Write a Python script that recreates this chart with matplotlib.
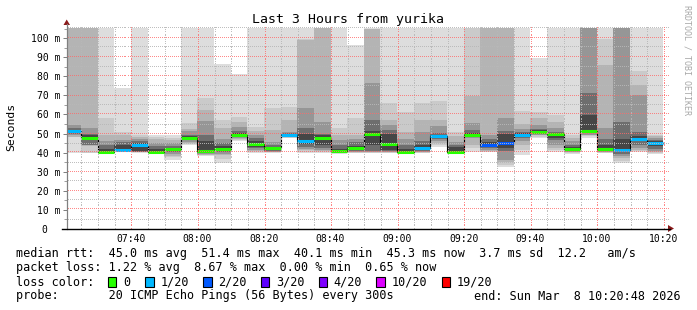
import matplotlib
matplotlib.use('Agg')
import matplotlib.pyplot as plt
import numpy as np
from matplotlib.lines import Line2D
from matplotlib.patches import Rectangle, Polygon

W, H, DPI = 697, 310, 100
MONO = 'DejaVu Sans Mono'

# ---------------- data (minutes after 07:00) ----------------
view_start, view_end = 20.8, 200.8          # 07:20:48 .. 10:20:48
bar_start, bar_step = 20, 5                 # 5-minute RRD steps

medians = [51.2, 47.8, 40.5, 41.5, 43.9, 40.5, 41.8, 47.8, 41.0, 42.0, 49.4, 44.4,
           42.2, 49.5, 46.0, 47.8, 41.0, 42.4, 49.7, 44.5, 40.5, 42.2, 48.7, 40.3,
           49.0, 44.2, 45.0, 49.5, 51.0, 49.7, 42.0, 51.3, 41.8, 41.5, 47.3, 45.3]
lost = [1, 0, 0, 1, 1, 0, 0, 0, 0, 0, 0, 0,
        0, 1, 1, 0, 0, 0, 0, 0, 0, 1, 1, 0,
        0, 2, 2, 1, 0, 0, 0, 0, 0, 1, 1, 1]

# smoke envelopes, outermost (hi1/lo1) to innermost (hi6/lo6); 110 = above chart top
hi1 = [110, 110, 110, 73.9, 110, 49.2, 49.2, 110, 110, 86.2, 81, 110,
       110, 110, 110, 110, 110, 96.3, 105.3, 110, 110, 110, 110, 110,
       110, 110, 110, 110, 89.8, 110, 110, 110, 110, 110, 110, 110]
hi2 = [110, 110, 58, 51, 49.2, 48, 47.5, 55.4, 68.6, 57, 58.9, 53.6,
       63.3, 64, 99.5, 110, 52.7, 58, 105, 66, 61.5, 66, 66.8, 51,
       110, 110, 110, 61.6, 61.5, 59.8, 49.2, 110, 99.5, 110, 82.7, 49.2]
hi3 = [110, 110, 49.2, 49.5, 48, 47, 46.5, 52.5, 62.4, 52.7, 56, 51.5,
       51.9, 57, 99, 110, 49.2, 49.2, 105, 57, 51, 57, 57, 48.5,
       69.5, 110, 110, 55, 58, 56, 47.5, 110, 86, 110, 75.7, 48.5]
hi4 = [54.5, 52.7, 46, 46.5, 47, 45, 45, 51.5, 56.5, 47.4, 53.5, 49.5,
       45.7, 51, 63.3, 56, 46.6, 47, 76.5, 54.5, 47, 51, 54, 45.7,
       55.4, 49.2, 58, 52.5, 54.5, 53, 46, 110, 52.7, 110, 70, 47.5]
hi5 = [53, 50, 44, 45.7, 46, 43.5, 43.5, 49.5, 49.2, 45, 51.5, 47.5,
       44, 50.5, 52.7, 50, 43.9, 45.5, 57, 51.9, 44, 46, 50.5, 44,
       52, 47, 51.5, 51, 52.5, 51, 44, 71.3, 47, 56.2, 51, 46.5]
hi6 = [52, 49, 42, 44, 45, 42, 42.6, 48.5, 46, 43.5, 50.5, 46,
       43, 50, 50, 49, 42, 43.5, 51.5, 50, 42, 44, 49.5, 43,
       50.5, 45.5, 50, 50.5, 51.7, 50.5, 43, 59.8, 44, 47.4, 48.5, 46]
lo6 = [50.5, 46.5, 40.2, 41, 41, 40.2, 41, 47, 40.3, 41, 48.5, 43,
       41.5, 49, 44.5, 44, 40.5, 41.5, 44, 41.5, 40.2, 41.2, 47.8, 40,
       48.2, 43, 42.2, 48.5, 50.3, 47.5, 41.2, 50.8, 41, 40.7, 46, 43.5]
lo5 = [50, 44, 40.1, 40.8, 40.6, 40.1, 40.5, 46.5, 39.8, 40.5, 48, 42.2,
       41, 48.7, 43, 42.5, 40.3, 41, 41, 41, 40.1, 40.8, 47, 39.9,
       48, 42.2, 41, 47.5, 50, 46.6, 40.8, 50.3, 40.7, 39.5, 44, 42]
lo4 = [49, 43.8, 40, 40.6, 40.4, 40, 39.5, 45.5, 39.3, 39.5, 47.5, 41.5,
       40.6, 48.3, 42, 41.5, 40.1, 40.5, 40.5, 40.5, 40, 40.5, 46, 39.8,
       47.5, 41.5, 36.3, 46, 49.5, 44, 40.4, 49.5, 40.4, 38.5, 42.2, 41]
lo3 = [48.3, 43.6, 39.9, 40.5, 40.3, 39.9, 38.5, 45, 39, 38.6, 47, 40.8,
       40.3, 48, 41.3, 41, 40, 40.2, 40.3, 40.2, 39.9, 40.2, 45, 39.7,
       44, 41, 35, 44, 49, 42.5, 40.1, 49, 40.1, 37, 41.3, 40.3]
lo2 = [48.3, 40, 39.7, 40.4, 40.2, 39.8, 37.7, 44.5, 38.8, 36.5, 46.6, 40.3,
       40.1, 47.8, 40.5, 40.5, 39.8, 39.9, 40, 40, 39.8, 40, 44, 39.6,
       42.5, 40.5, 33.5, 41.3, 48.3, 41.3, 39.8, 48.5, 39.9, 35.5, 40.8, 39.8]
lo1 = [39.8, 39.6, 39.5, 40.2, 40.0, 39.6, 36.3, 43.9, 38.5, 34.6, 46.2, 40,
       39.9, 47.5, 40, 40, 39.5, 39.7, 39.8, 39.8, 39.6, 39.8, 43, 39.5,
       40.4, 40.2, 32.6, 38.6, 47.5, 40.5, 39.5, 47.8, 39.6, 34.5, 40.4, 39.2]

x_major = [40, 60, 80, 100, 120, 140, 160, 180, 200]
x_labels = ['07:40', '08:00', '08:20', '08:40', '09:00', '09:20', '09:40', '10:00', '10:20']
y_major = [0, 10, 20, 30, 40, 50, 60, 70, 80, 90, 100]
y_max = 105.3

loss_keys = [0, 1, 2, 3, 4, 10, 19]
loss_names = ['0', '1/20', '2/20', '3/20', '4/20', '10/20', '19/20']
loss_colors = ['#26ff00', '#00b8ff', '#0059ff', '#5e00ff', '#7e00ff', '#dd00ff', '#ff0000']

title = 'Last 3 Hours from yurika'
row_rtt = 'median rtt:  45.0 ms avg  51.4 ms max  40.1 ms min  45.3 ms now  3.7 ms sd  12.2   am/s'
row_loss = 'packet loss: 1.22 % avg  8.67 % max  0.00 % min  0.65 % now'
row_probe_a = 'probe:       20 ICMP Echo Pings (56 Bytes) every 300s'
row_probe_b = 'end: Sun Mar  8 10:20:48 2026'

# ---------------- figure ----------------
fig = plt.figure(figsize=(W / DPI, H / DPI), dpi=DPI)
fig.patch.set_facecolor('white')

def fx(px):
    return px / W

def fy(py):
    return 1 - py / H

ax_l, ax_r, ax_t, ax_b = 67.0, 666.0, 28.0, 229.0
ax = fig.add_axes([fx(ax_l), fy(ax_b), (ax_r - ax_l) / W, (ax_b - ax_t) / H])
ax.set_xlim(view_start, view_end)
ax.set_ylim(0, y_max)
ax.set_facecolor('white')

n = len(medians)
edges = bar_start + bar_step * np.arange(n + 1)
left = edges[:-1]

layer_grays = [221, 202, 180, 150, 110, 70]
his = [hi1, hi2, hi3, hi4, hi5, hi6]
los = [lo1, lo2, lo3, lo4, lo5, lo6]
for hi, lo, g in zip(his, los, layer_grays):
    hi = np.array(hi, float)
    lo = np.array(lo, float)
    ax.bar(left, hi - lo, bottom=lo, width=bar_step, align='edge',
           color='#%02x%02x%02x' % (g, g, g), linewidth=0, antialiased=False, zorder=1)

# median: black step line + loss-coloured segments
ax.stairs(medians, edges, baseline=None, color='black', lw=0.8, zorder=3)
cmap = dict(zip(loss_keys, loss_colors))
seg_cols = [cmap[k] for k in lost]
ax.hlines(medians, left, left + bar_step, colors=seg_cols, lw=2.2, zorder=4,
          capstyle='butt')

# dotted grid drawn over the data: 1 px dots every 2 px, snapped to pixel centres
T = ax.transData
Ti = T.inverted()
x_px = np.arange(ax_l, ax_r + 2, 2) + 0.5              # display x (pixels)
y_px = np.arange(H - ax_b, H - ax_t, 2) + 0.5          # display y (pixels)

def hdots(v, color, alpha, z):
    yd = np.floor(T.transform((view_start, v))[1]) + 0.5
    pts = Ti.transform(np.column_stack([x_px, np.full_like(x_px, yd)]))
    ax.plot(pts[:, 0], pts[:, 1], ',', color=color, alpha=alpha, zorder=z, clip_on=False)

def vdots(m, color, alpha, z):
    xd = np.floor(T.transform((m, 0))[0]) + 0.5
    pts = Ti.transform(np.column_stack([np.full_like(y_px, xd), y_px]))
    ax.plot(pts[:, 0], pts[:, 1], ',', color=color, alpha=alpha, zorder=z, clip_on=False)

GRAY, RED = '#b8b8b8', '#ff6a6a'
for m in np.arange(25, 201, 5):
    if m not in x_major:
        vdots(m, GRAY, 0.9, 6)
for m in x_major:
    vdots(m, RED, 0.8, 7)
for v in np.arange(5, 106, 10):
    hdots(v, GRAY, 0.9, 6)
for v in y_major[1:]:
    hdots(v, RED, 0.8, 7)

for s in ax.spines.values():
    s.set_visible(False)

ax.set_xticks(x_major, x_labels)
ylabels = [('%d m' % v) if v else '0  ' for v in y_major]
ax.set_yticks(y_major, ylabels)
ax.set_yticks(np.arange(5, 106, 10), minor=True)
ax.tick_params(axis='x', length=0, pad=3.5, labelsize=7)
ax.tick_params(axis='y', which='major', length=3, width=0.72, color='#808080',
               pad=2.0, labelsize=7)
ax.tick_params(axis='y', which='minor', length=2, width=0.72, color='#a0a0a0')
for lab in ax.get_xticklabels() + ax.get_yticklabels():
    lab.set_family(MONO)

# axes lines and arrows
fig.add_artist(Line2D([fx(ax_l - 0.3), fx(ax_l - 0.3)], [fy(ax_b), fy(24)],
                      color='#808080', lw=0.9))
fig.add_artist(Line2D([fx(62), fx(670)], [fy(ax_b - 0.5), fy(ax_b - 0.5)], color='black', lw=1.0))
arrow_col = '#8b1a1a'
fig.add_artist(Polygon([[fx(ax_l - 3.5), fy(25)], [fx(ax_l + 3), fy(25)], [fx(ax_l - 0.3), fy(19.5)]],
                       closed=True, color=arrow_col, lw=0))
fig.add_artist(Polygon([[fx(668), fy(ax_b - 4)], [fx(668), fy(ax_b + 3)], [fx(674), fy(ax_b - 0.5)]],
                       closed=True, color=arrow_col, lw=0))

# texts
fig.text(0.5, fy(19), title, ha='center', va='center', family=MONO, fontsize=9.5)
fig.text(fx(11), fy(127), 'Seconds', rotation=90, ha='center', va='center',
         family=MONO, fontsize=8.2)
fig.text(fx(686.5), fy(60), 'RRDTOOL / TOBI OETIKER', rotation=270, ha='center',
         va='center', family=MONO, fontsize=6, color='#a8a8a8')

LFS = 8.5
fig.text(fx(16), fy(254), row_rtt, ha='left', va='center', family=MONO, fontsize=LFS)
fig.text(fx(16), fy(268), row_loss, ha='left', va='center', family=MONO, fontsize=LFS)
fig.text(fx(16), fy(282), 'loss color:', ha='left', va='center', family=MONO, fontsize=LFS)
box_x = [107.6, 145.3, 203.1, 260.9, 318.7, 376.4, 441.8]
txt_x = [123.0, 160.4, 218.2, 276.0, 333.8, 391.6, 456.9]
for bx, tx, name, col in zip(box_x, txt_x, loss_names, loss_colors):
    fig.add_artist(Rectangle((fx(bx), fy(287)), 8.5 / W, 10 / H, facecolor=col,
                             edgecolor='black', lw=0.8))
    fig.text(fx(tx), fy(282), name, ha='left', va='center', family=MONO, fontsize=LFS)
fig.text(fx(16), fy(296), row_probe_a, ha='left', va='center', family=MONO, fontsize=LFS)
fig.text(fx(681), fy(296), row_probe_b, ha='right', va='center', family=MONO, fontsize=LFS)

fig.savefig('out.png', dpi=DPI, facecolor='white')
